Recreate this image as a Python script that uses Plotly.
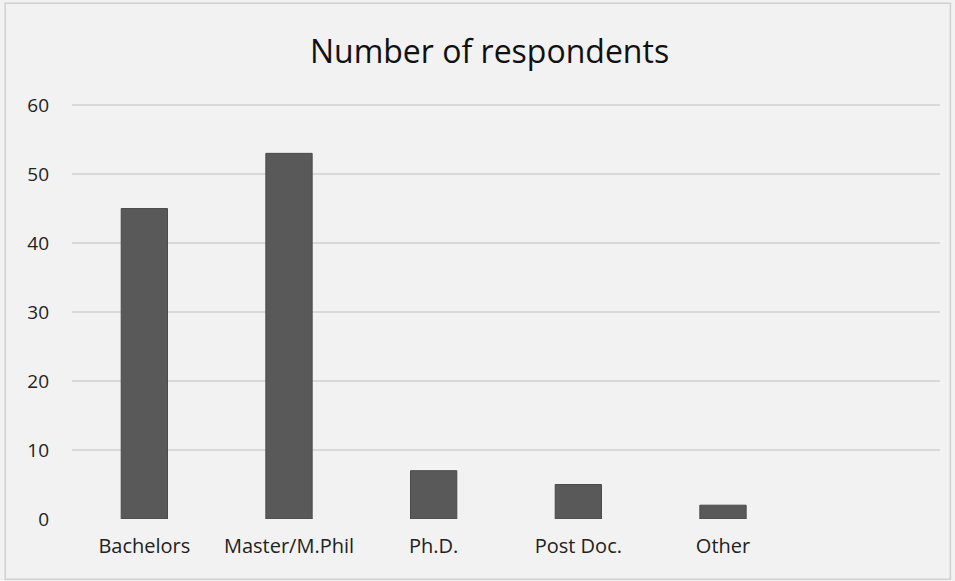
import plotly.graph_objects as go

# Survey respondents by highest qualification
categories = ["Bachelors", "Master/M.Phil", "Ph.D.", "Post Doc.", "Other"]
respondents = [45, 53, 7, 5, 2]
y_ticks = [0, 10, 20, 30, 40, 50, 60]

fig = go.Figure(
    go.Bar(
        x=categories,
        y=respondents,
        marker=dict(color="#595959", line=dict(color="#4a4a4a", width=1)),
        width=0.32,
    )
)

fig.update_layout(
    width=955,
    height=581,
    paper_bgcolor="#f2f2f2",
    plot_bgcolor="#f2f2f2",
    margin=dict(l=72, r=15, t=103, b=62),
    font=dict(family="Open Sans, Lato, sans-serif", color="#222222"),
    title=dict(
        text="Number of respondents",
        xref="container",
        x=0.5126,
        xanchor="center",
        y=0.91,
        yanchor="middle",
        font=dict(size=32, color="#111111"),
    ),
    showlegend=False,
    xaxis=dict(
        type="category",
        categoryorder="array",
        categoryarray=categories,
        range=[-0.5, 5.5],
        showgrid=False,
        showline=False,
        zeroline=False,
        ticks="",
        tickfont=dict(size=20, color="#222222"),
        ticklabelstandoff=13,
    ),
    yaxis=dict(
        range=[0, 60.3],
        tickvals=y_ticks,
        showgrid=True,
        gridcolor="#d9d9d9",
        gridwidth=1.5,
        zeroline=False,
        showline=False,
        ticks="",
        tickfont=dict(size=19, color="#222222"),
        ticklabelstandoff=22,
    ),
    shapes=[
        dict(
            type="rect",
            xref="paper",
            yref="paper",
            x0=-0.077,
            x1=1.012,
            y0=-0.145,
            y1=1.24,
            line=dict(color="#d0d0d0", width=1.5),
            fillcolor="rgba(0,0,0,0)",
        )
    ],
)

fig.write_html("out.html")
